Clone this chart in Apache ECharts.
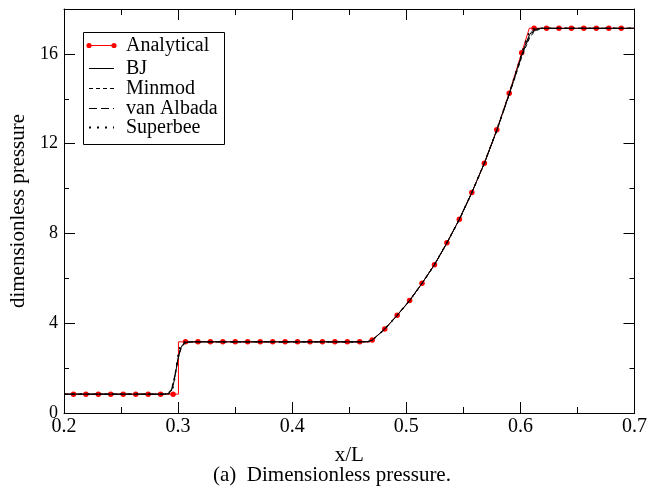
<!DOCTYPE html>
<html><head><meta charset="utf-8">
<script src="https://cdn.jsdelivr.net/npm/echarts@6/dist/echarts.min.js"></script>
<style>html,body{margin:0;padding:0;background:#fff}#c{width:650px;height:490px}</style>
</head><body><div id="c"></div>
<script>
// ---- data ----
const anaDotX = [0.2083,0.2192,0.2301,0.2410,0.2519,0.2629,0.2738,0.2847,0.2956,
  0.3065,0.3174,0.3283,0.3392,0.3501,0.3610,0.3720,0.3829,0.3938,0.4047,0.4156,0.4265,0.4374,0.4483,0.4592,
  0.4701,0.4811,0.4920,0.5029,0.5138,0.5247,0.5356,0.5465,0.5574,0.5684,0.5793,0.5902,0.6011,
  0.6120,0.6229,0.6338,0.6447,0.6556,0.6665,0.6775,0.6884];
const anaDotY = [0.84,0.84,0.84,0.84,0.84,0.84,0.84,0.84,0.84,
  3.17,3.17,3.17,3.17,3.17,3.17,3.17,3.17,3.17,3.17,3.17,3.17,3.17,3.17,3.17,
  3.25,3.74,4.36,5.01,5.78,6.61,7.58,8.63,9.82,11.13,12.62,14.25,16.05,
  17.14,17.14,17.14,17.14,17.14,17.14,17.14,17.14];
const anaLineX = [0.2,0.3003,0.3003,0.468,0.4701,0.4811,0.4920,0.5029,0.5138,0.5247,0.5356,0.5465,0.5574,0.5684,0.5793,0.5902,0.6011,0.6078,0.7];
const anaLineY = [0.84,0.84,3.17,3.17,3.25,3.74,4.36,5.01,5.78,6.61,7.58,8.63,9.82,11.13,12.62,14.25,16.05,17.14,17.14];

const numX = [0.200,0.250,0.288,0.291,0.294,0.296,0.298,0.300,0.302,0.304,0.306,0.309,0.313,0.350,0.400,0.450,0.462,0.466,
  0.4701,0.4811,0.4920,0.5029,0.5138,0.5247,0.5356,0.5465,0.5574,0.5684,0.5793,0.5902,0.6011,
  0.6050,0.6080,0.6110,0.6140,0.6170,0.6200,0.6240,0.650,0.700];
const bjY = [0.84,0.84,0.84,0.85,0.98,1.30,1.85,2.45,2.85,3.05,3.14,3.17,3.17,3.17,3.17,3.17,3.17,3.18,
  3.24,3.74,4.35,5.01,5.78,6.61,7.58,8.63,9.82,11.13,12.60,14.22,15.95,
  16.50,16.85,17.05,17.12,17.14,17.14,17.14,17.14,17.14];
const minmodY = [0.84,0.84,0.84,0.88,1.05,1.40,1.90,2.40,2.78,3.00,3.10,3.15,3.17,3.17,3.17,3.17,3.17,3.19,
  3.25,3.74,4.34,5.00,5.77,6.60,7.57,8.62,9.81,11.12,12.58,14.18,15.85,
  16.35,16.70,16.92,17.04,17.10,17.13,17.14,17.14,17.14];
const vanAlbadaY = [0.84,0.84,0.84,0.86,1.00,1.35,1.88,2.45,2.82,3.03,3.12,3.16,3.17,3.17,3.17,3.17,3.17,3.18,
  3.24,3.74,4.35,5.01,5.78,6.61,7.58,8.63,9.82,11.13,12.59,14.20,15.90,
  16.42,16.78,16.98,17.08,17.12,17.14,17.14,17.14,17.14];
const superbeeY = [0.84,0.84,0.84,0.84,0.92,1.20,1.90,2.60,3.00,3.13,3.17,3.17,3.17,3.17,3.17,3.17,3.17,3.17,
  3.24,3.74,4.36,5.01,5.78,6.61,7.58,8.63,9.82,11.13,12.61,14.23,16.00,
  16.62,16.98,17.12,17.14,17.14,17.14,17.14,17.14,17.14];

const seriesNames = ['Analytical','BJ','Minmod','van Albada','Superbee'];
const xTickLabels = [0.2,0.3,0.4,0.5,0.6,0.7];
const yTickLabels = [0,4,8,12,16];
const xTitle = 'x/L';
const yTitle = 'dimensionless pressure';
const caption = '(a)  Dimensionless pressure.';

// ---- build ----
const zip = (xs, ys) => xs.map((x, i) => [x, ys[i]]);
const FONT = 'Liberation Serif';

const chart = echarts.init(document.getElementById('c'), null, {renderer: 'canvas'});

const labelStyle = (size) => ({show: true, color: '#000', fontFamily: FONT, fontSize: size, fontWeight: 'normal'});

const baseX = {
  type: 'value', min: 0.2, max: 0.7, interval: 0.1,
  axisLine: {show: true, onZero: false, lineStyle: {color: '#000', width: 1}},
  axisTick: {show: true, inside: true, length: 11, lineStyle: {color: '#000'}},
  minorTick: {show: true, splitNumber: 2, length: 6, lineStyle: {color: '#000'}},
  splitLine: {show: false}, minorSplitLine: {show: false}
};
const baseY = {
  type: 'value', min: 0, max: 18,
  axisLine: {show: true, onZero: false, lineStyle: {color: '#000', width: 1}},
  splitLine: {show: false}
};

const lineSeries = (name, ys, type, width, z) => ({
  name, type: 'line', data: zip(numX, ys), showSymbol: false, symbol: 'none',
  lineStyle: {color: '#000', width, type}, itemStyle: {color: '#000'}, z, silent: true
});

const legendX = 83, legendY = 32, legendW = 141, legendH = 112;
const rows = [45.5, 68.5, 88.5, 108.5, 127.5];
const legendDash = [null, null, [4,3], [8,4], [2,6]];
const legendEls = [{
  type: 'rect', shape: {x: legendX + 0.5, y: legendY + 0.5, width: legendW, height: legendH},
  style: {fill: '#fff', stroke: '#000', lineWidth: 1}
}];
rows.forEach((ry, i) => {
  const isAna = i === 0;
  legendEls.push({
    type: 'line', shape: {x1: 89, y1: ry, x2: 114, y2: ry},
    style: {stroke: isAna ? '#ff0000' : '#000', lineWidth: i === 4 ? 2 : 1, lineDash: legendDash[i] || null}
  });
  if (isAna) {
    legendEls.push({type: 'circle', shape: {cx: 89, cy: ry, r: 2.6}, style: {fill: '#ff0000'}});
    legendEls.push({type: 'circle', shape: {cx: 114, cy: ry, r: 2.6}, style: {fill: '#ff0000'}});
  }
  legendEls.push({
    type: 'text', x: 126, y: ry,
    style: {text: seriesNames[i], fill: '#000', font: '20px "Liberation Serif"', textVerticalAlign: 'middle', textAlign: 'left'}
  });
});

chart.setOption({
  animation: false,
  backgroundColor: '#fff',
  textStyle: {fontFamily: FONT, color: '#000'},
  grid: {left: 59, right: 11, top: 9, bottom: 77, containLabel: false},
  title: {
    text: caption, left: 208, top: 460,
    textStyle: {fontFamily: FONT, fontSize: 21, fontWeight: 'normal', color: '#000'}
  },
  xAxis: [
    Object.assign({}, baseX, {
      position: 'bottom',
      name: xTitle, nameLocation: 'middle', nameGap: 32,
      nameTextStyle: {fontFamily: FONT, fontSize: 21, color: '#000'},
      axisLabel: Object.assign(labelStyle(20), {margin: 4, customValues: xTickLabels, formatter: v => v.toFixed(1)})
    }),
    Object.assign({}, baseX, {position: 'top', axisLabel: {show: false}})
  ],
  yAxis: [
    Object.assign({}, baseY, {
      position: 'left', interval: 4,
      name: yTitle, nameLocation: 'middle', nameGap: 35,
      nameTextStyle: {fontFamily: FONT, fontSize: 21, color: '#000'},
      axisTick: {show: true, inside: true, length: 11, customValues: yTickLabels, lineStyle: {color: '#000'}},
      axisLabel: Object.assign(labelStyle(18), {margin: 6, customValues: yTickLabels, formatter: v => String(v)})
    }),
    Object.assign({}, baseY, {
      position: 'left', interval: 2, axisLine: {show: false},
      axisTick: {show: true, inside: true, length: 5, lineStyle: {color: '#000'}},
      axisLabel: {show: false}
    }),
    Object.assign({}, baseY, {
      position: 'right', interval: 4,
      axisTick: {show: true, inside: true, length: 11, customValues: yTickLabels, lineStyle: {color: '#000'}},
      axisLabel: {show: false}
    }),
    Object.assign({}, baseY, {
      position: 'right', interval: 2, axisLine: {show: false},
      axisTick: {show: true, inside: true, length: 5, lineStyle: {color: '#000'}},
      axisLabel: {show: false}
    })
  ],
  series: [
    {name: 'Analytical line', type: 'line', data: zip(anaLineX, anaLineY), showSymbol: false, symbol: 'none',
      lineStyle: {color: '#ff0000', width: 1}, z: 1, silent: true},
    {name: 'Analytical', type: 'scatter', data: zip(anaDotX, anaDotY), symbol: 'circle', symbolSize: 5.5,
      itemStyle: {color: '#ff0000', opacity: 1}, z: 2, silent: true},
    lineSeries('BJ', bjY, 'solid', 1, 3),
    lineSeries('Minmod', minmodY, [4,3], 1, 4),
    lineSeries('van Albada', vanAlbadaY, [8,4], 1, 5),
    lineSeries('Superbee', superbeeY, [2,6], 1.5, 6)
  ],
  graphic: {elements: legendEls}
});
</script>
</body></html>
